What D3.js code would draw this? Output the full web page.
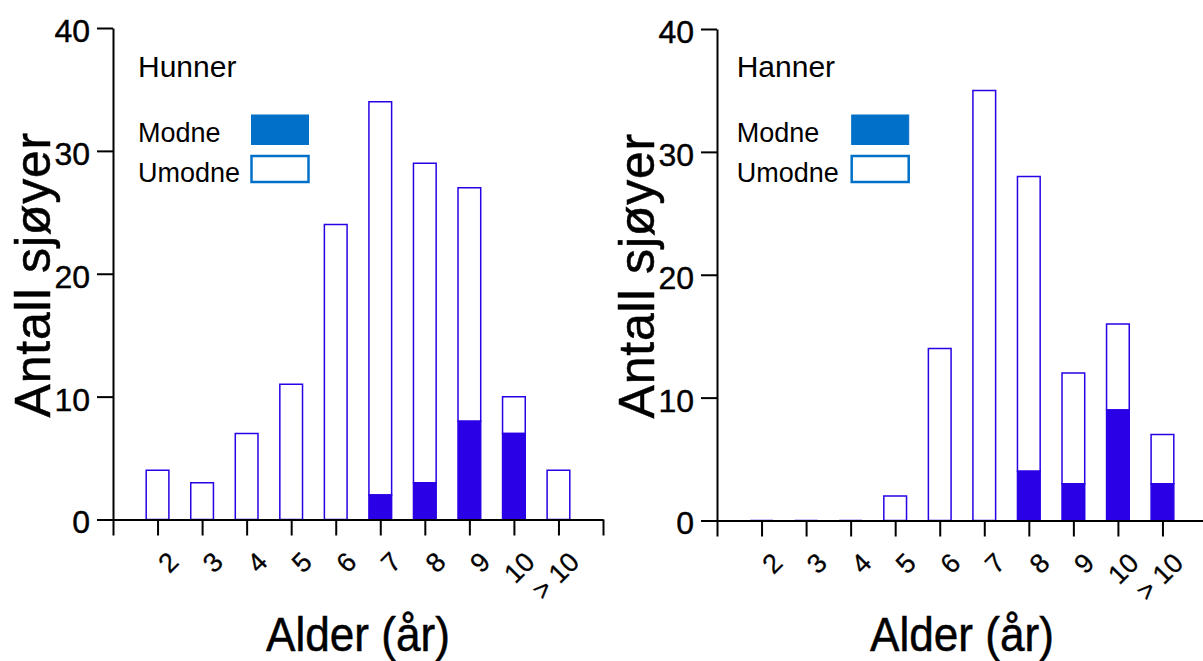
<!DOCTYPE html>
<html>
<head>
<meta charset="utf-8">
<script src="https://cdn.jsdelivr.net/npm/d3@7"></script>
<style>
    body { margin: 0; background: #fff; }
    svg { display: block; font-family: "Liberation Sans", Arial, sans-serif; }
</style>
</head>
<body>
<div id="chart"></div>
<script>
// values
var ageLabels = ["2", "3", "4", "5", "6", "7", "8", "9", "10", "> 10"];
var hunnerTotal = [4, 3, 7, 11, 24, 34, 29, 27, 10, 4];
var hunnerModne = [0, 0, 0, 0, 0, 2, 3, 8, 7, 0];
var hannerTotal = [0, 0, 0, 2, 14, 35, 28, 12, 16, 7];
var hannerModne = [0, 0, 0, 0, 0, 0, 4, 3, 9, 3];
var yTicks = [0, 10, 20, 30, 40];
var legendKeys = ["Modne", "Umodne"];

var WIDTH = 1203, HEIGHT = 661,
    BAR_COLOR = "#2a00e6",
    LEGEND_COLOR = "#0070c8";

var svg = d3.select("#chart").append("svg")
    .attr("width", WIDTH)
    .attr("height", HEIGHT);

svg.append("rect").attr("width", WIDTH).attr("height", HEIGHT).attr("fill", "#fff");

function drawPanel(opt) {
    var g = svg.append("g");
    var left = opt.left, top = opt.top, bottom = opt.bottom;

    // positions 1..12, labelled ages sit on 2..11
    var x = d3.scaleLinear().domain([1, 12]).range([left, left + 490]);
    var y = d3.scaleLinear().domain([0, 40]).range([bottom, top]);
    var barW = 22.7;

    var rows = ageLabels.map(function (lab, i) {
        return { label: lab, pos: i + 2, total: opt.total[i], modne: opt.modne[i] };
    });

    function barPath(d, v0, v1) {
        var p = d3.path();
        var x0 = x(d.pos) - barW / 2;
        p.rect(x0, y(v1), barW, y(v0) - y(v1));
        return p.toString();
    }

    // umodne part (open bars)
    g.selectAll("path.umodne")
        .data(rows).enter()
        .append("path")
        .attr("class", "umodne")
        .attr("d", function (d) { return barPath(d, d.modne, d.total); })
        .attr("fill", "#fff")
        .attr("stroke", BAR_COLOR)
        .attr("stroke-width", 1.5);

    // modne part (filled)
    g.selectAll("path.modne")
        .data(rows.filter(function (d) { return d.modne > 0; })).enter()
        .append("path")
        .attr("class", "modne")
        .attr("d", function (d) { return barPath(d, 0, d.modne); })
        .attr("fill", BAR_COLOR)
        .attr("stroke", BAR_COLOR)
        .attr("stroke-width", 1.5);

    // y axis
    var yAxis = g.append("g")
        .attr("transform", "translate(" + left + ",0)")
        .call(d3.axisLeft(y).tickValues(yTicks).tickSize(16).tickSizeOuter(0).tickPadding(7));
    yAxis.selectAll("text")
        .attr("font-size", 32)
        .attr("font-family", "Liberation Sans, Arial, sans-serif")
        .attr("fill", "#000")
        .attr("stroke", "#000")
        .attr("stroke-width", 0.4)
        .attr("dy", "0.42em");

    // x axis
    var xAxis = g.append("g")
        .attr("transform", "translate(0," + bottom + ")")
        .call(d3.axisBottom(x).tickValues(d3.range(1, 13)).tickSize(16).tickSizeOuter(0)
            .tickFormat(function (v) { return ageLabels[v - 2] || ""; }));
    xAxis.selectAll("text")
        .attr("font-size", 27)
        .attr("font-family", "Liberation Sans, Arial, sans-serif")
        .attr("fill", "#000")
        .attr("stroke", "#000")
        .attr("stroke-width", 0.3)
        .attr("text-anchor", "end")
        .attr("x", 0).attr("y", 0).attr("dy", 0)
        .attr("transform", "translate(22,44) rotate(-45)");

    g.selectAll(".domain, .tick line")
        .attr("stroke", "#000")
        .attr("stroke-width", 2);

    // axis titles
    g.append("text")
        .attr("transform", "translate(" + (left - 63) + "," + ((top + bottom) / 2 + 1) + ") rotate(-90)")
        .attr("text-anchor", "middle")
        .attr("font-size", 50)
        .attr("letter-spacing", 0.8)
        .attr("stroke", "#000")
        .attr("stroke-width", 0.5)
        .text("Antall sjøyer");

    g.append("text")
        .attr("transform", "translate(" + (left + 245) + ",651) scale(0.92,1)")
        .attr("text-anchor", "middle")
        .attr("font-size", 48)
        .attr("stroke", "#000")
        .attr("stroke-width", 0.5)
        .text("Alder (år)");

    // legend
    g.append("text")
        .attr("x", left + opt.legTextDx)
        .attr("y", 76.7)
        .attr("font-size", 30)
        .text(opt.title);

    var leg = g.selectAll("g.leg")
        .data(legendKeys).enter()
        .append("g")
        .attr("class", "leg");
    leg.append("text")
        .attr("x", left + opt.legTextDx)
        .attr("y", function (d, i) { return 141.7 + i * 40; })
        .attr("font-size", 27)
        .text(function (d) { return d; });
    leg.append("rect")
        .attr("x", left + opt.legRectDx)
        .attr("y", function (d, i) { return i === 0 ? 115 : 156; })
        .attr("width", 57)
        .attr("height", function (d, i) { return i === 0 ? 29.5 : 26; })
        .attr("fill", function (d, i) { return i === 0 ? LEGEND_COLOR : "#fff"; })
        .attr("stroke", LEGEND_COLOR)
        .attr("stroke-width", function (d, i) { return i === 0 ? 1 : 2.5; });
}

drawPanel({ left: 113, top: 28, bottom: 519.5, total: hunnerTotal, modne: hunnerModne,
    title: "Hunner", legTextDx: 25, legRectDx: 138.5 });
drawPanel({ left: 717, top: 29, bottom: 520.5, total: hannerTotal, modne: hannerModne,
    title: "Hanner", legTextDx: 19.7, legRectDx: 134.7 });
</script>
</body>
</html>
